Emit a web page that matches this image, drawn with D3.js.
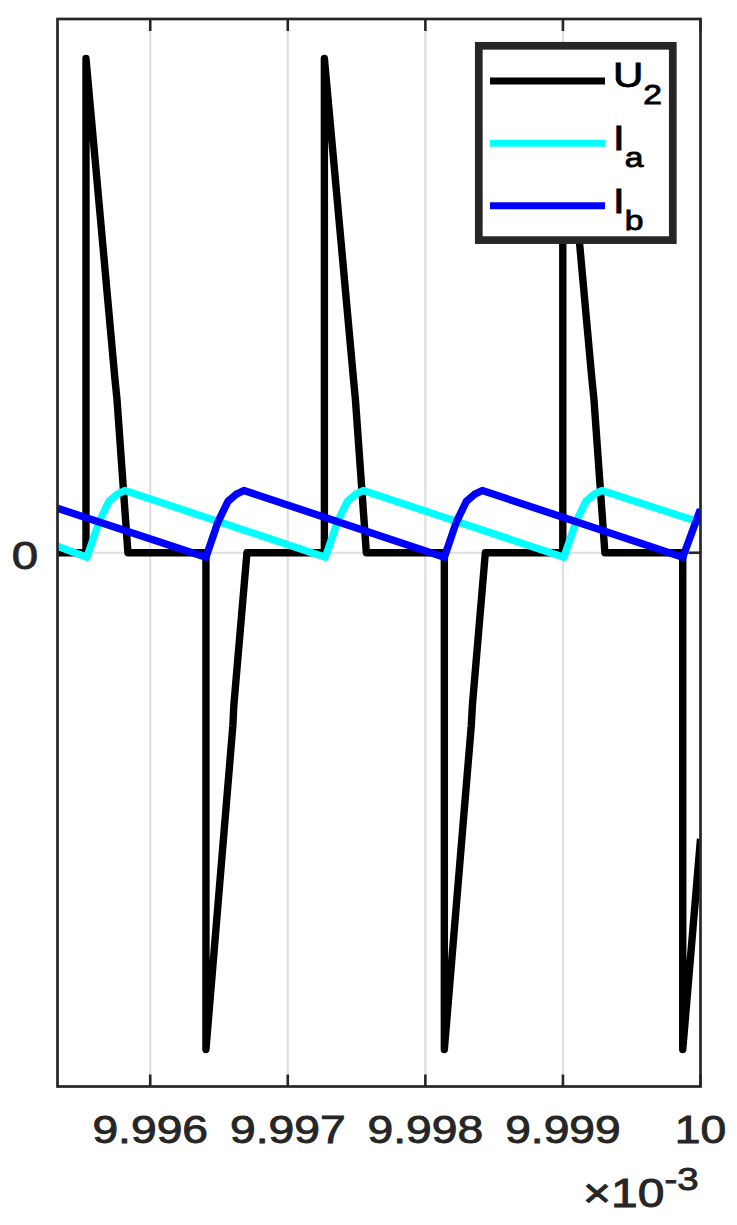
<!DOCTYPE html>
<html>
<head>
<meta charset="utf-8">
<script src="https://cdn.jsdelivr.net/npm/d3@7"></script>
<style>
  html, body { margin: 0; padding: 0; background: #fff; }
  svg { display: block; }
  text { font-family: "Liberation Sans", Arial, Helvetica, sans-serif; fill: #262626; stroke: #262626; stroke-width: 0.9; }
</style>
</head>
<body>
<svg id="chart" width="737" height="1225"></svg>
<script>
// ---- data (time in units of 1e-3 s) ----
const u2Time  = [9.995326, 9.995533, 9.995533, 9.995743, 9.995758, 9.995838, 9.996405, 9.996405, 9.996601, 9.996608, 9.996703,
                 9.997266, 9.997266, 9.997477, 9.997491, 9.997571, 9.998138, 9.998138, 9.998334, 9.998342, 9.998436,
                 9.998999, 9.998999, 9.999210, 9.999225, 9.999305, 9.999871, 9.999871, 10.0];
const u2Value = [0, 0, 1.0, 0.353, 0.312, 0, 0, -1.005, -0.349, -0.308, 0,
                 0, 1.0, 0.353, 0.312, 0, 0, -1.005, -0.349, -0.308, 0,
                 0, 1.0, 0.353, 0.312, 0, 0, -1.005, -0.579];

const iaTime  = [9.995326, 9.995540, 9.995627, 9.995700, 9.995758, 9.995816,
                 9.997273, 9.997360, 9.997433, 9.997491, 9.997549,
                 9.999007, 9.999094, 9.999167, 9.999225, 9.999283, 10.0];
const iaValue = [0.013, -0.009, 0.062, 0.104, 0.118, 0.126,
                 -0.009, 0.062, 0.104, 0.118, 0.126,
                 -0.009, 0.062, 0.104, 0.118, 0.126, 0.061];

const ibTime  = [9.995326, 9.996405, 9.996492, 9.996565, 9.996623, 9.996681,
                 9.998138, 9.998225, 9.998298, 9.998356, 9.998414,
                 9.999871, 10.0];
const ibValue = [0.090, -0.009, 0.062, 0.104, 0.118, 0.126,
                 -0.009, 0.062, 0.104, 0.118, 0.126,
                 -0.009, 0.088];

const xTickValues = [9.996, 9.997, 9.998, 9.999, 10.0];
const xTickLabels = ["9.996", "9.997", "9.998", "9.999", "10"];
const yTickValues = [0];
const yTickLabels = ["0"];
const seriesNames = [["U", "2"], ["I", "a"], ["I", "b"]];
const seriesColors = ["#000000", "#00ffff", "#0000ff"];
const xDomain = [9.995326, 10.0];
const yDomain = [-1.08, 1.08];

// ---- layout ----
const svg = d3.select("#chart");
const L = 57.5, R = 700.5, T = 19, B = 1086.5;
const axisColor = "#262626";
const gridColor = "#dfdfdf";
const hs = 1.2; // horizontal stretch of text

const x = d3.scaleLinear().domain(xDomain).range([L, R]);
const y = d3.scaleLinear().domain(yDomain).range([B, T]);

// grid
const grid = svg.append("g");
grid.selectAll("line.gx").data(xTickValues.filter(v => v < 10)).enter().append("line")
  .attr("x1", d => x(d)).attr("x2", d => x(d)).attr("y1", T).attr("y2", B)
  .attr("stroke", gridColor).attr("stroke-width", 2.2);
grid.selectAll("line.gy").data(yTickValues).enter().append("line")
  .attr("x1", L).attr("x2", R).attr("y1", d => y(d)).attr("y2", d => y(d))
  .attr("stroke", gridColor).attr("stroke-width", 2.2);

// ticks (inward, all four sides)
const tickLen = 12;
const ticks = svg.append("g").attr("stroke", axisColor).attr("stroke-width", 2.6);
xTickValues.forEach(v => {
  ticks.append("line").attr("x1", x(v)).attr("x2", x(v)).attr("y1", B).attr("y2", B - tickLen);
  ticks.append("line").attr("x1", x(v)).attr("x2", x(v)).attr("y1", T).attr("y2", T + tickLen);
});
yTickValues.forEach(v => {
  ticks.append("line").attr("x1", L).attr("x2", L + tickLen).attr("y1", y(v)).attr("y2", y(v));
  ticks.append("line").attr("x1", R).attr("x2", R - tickLen).attr("y1", y(v)).attr("y2", y(v));
});

// series
const series = [
  {t: u2Time, v: u2Value, c: seriesColors[0]},
  {t: iaTime, v: iaValue, c: seriesColors[1]},
  {t: ibTime, v: ibValue, c: seriesColors[2]}
];
svg.append("clipPath").attr("id", "clip").append("rect")
  .attr("x", L).attr("y", T - 10).attr("width", R - L).attr("height", B - T + 20);
const lineGen = d3.line().x(d => x(d[0])).y(d => y(d[1]));
const plot = svg.append("g").attr("clip-path", "url(#clip)");
series.forEach(s => {
  const pts = s.t.map((t, i) => [t, s.v[i]]);
  plot.append("path").attr("d", lineGen(pts))
    .attr("fill", "none").attr("stroke", s.c).attr("stroke-width", 7.4)
    .attr("stroke-linejoin", "round").attr("stroke-linecap", "butt");
});

// frame
svg.append("rect").attr("x", L).attr("y", T).attr("width", R - L).attr("height", B - T)
  .attr("fill", "none").attr("stroke", axisColor).attr("stroke-width", 2.7);

// x tick labels
xTickValues.forEach((v, i) => {
  svg.append("text")
    .attr("transform", `translate(${x(v)},1143) scale(${hs},1)`)
    .attr("text-anchor", "middle").attr("font-size", 38.5)
    .text(xTickLabels[i]);
});
// y tick labels
yTickValues.forEach((v, i) => {
  svg.append("text")
    .attr("transform", `translate(38,${y(v) + 16}) scale(${hs},1)`)
    .attr("text-anchor", "end").attr("font-size", 39.5)
    .text(yTickLabels[i]);
});
// exponent label
const ex = svg.append("text")
  .attr("transform", `translate(583,1207) scale(${hs},1)`)
  .attr("font-size", 40);
ex.append("tspan").text("×10");
ex.append("tspan").attr("dy", -17).attr("font-size", 32).text("-3");

// legend
const lg = svg.append("g");
lg.append("rect").attr("x", 478.8).attr("y", 45.8).attr("width", 194).attr("height", 194.3)
  .attr("fill", "#fff").attr("stroke", axisColor).attr("stroke-width", 7.7);
const rowY = [81, 143.3, 205.7];
const textBase = [86.7, 150, 212.7];
seriesNames.forEach((nm, i) => {
  lg.append("line").attr("x1", 490).attr("x2", 605).attr("y1", rowY[i]).attr("y2", rowY[i])
    .attr("stroke", seriesColors[i]).attr("stroke-width", 7);
  const t = lg.append("text")
    .attr("transform", `translate(613,${textBase[i]}) scale(${hs},1)`)
    .attr("font-size", 35).style("fill", "#000").style("stroke", "#000");
  t.append("tspan").text(nm[0]);
  t.append("tspan").attr("dy", 17).attr("font-size", 28).text(nm[1]);
});
</script>
</body>
</html>
